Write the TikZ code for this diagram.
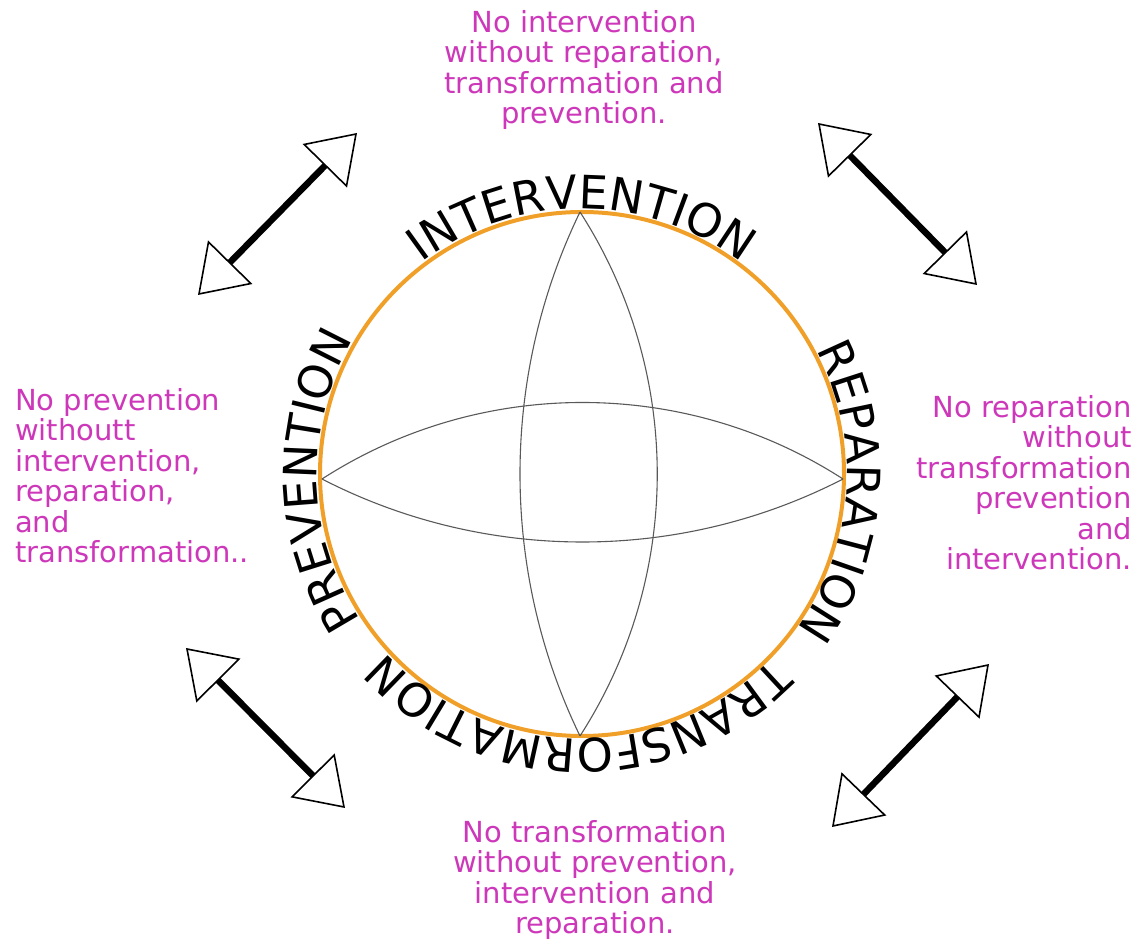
\documentclass[tikz,border=0pt]{standalone}
\usepackage{fontspec}
\setmainfont{DejaVu Sans}
\usetikzlibrary{arrows.meta,decorations.text}
\definecolor{ringorange}{RGB}{240,160,40}
\definecolor{notepink}{RGB}{205,55,185}
\begin{document}
\begin{tikzpicture}[x=1bp,y=1bp,
  ring/.style={draw=ringorange, line width=4bp},
  lens/.style={draw=black!65, line width=1.1bp},
  biarrow/.style={line width=6.5bp,
    {Triangle[length=46bp,width=62bp,fill=white,line width=1.6bp]}-{Triangle[length=46bp,width=62bp,fill=white,line width=1.6bp]}},
  note/.style={text=notepink, font=\fontsize{29bp}{30.5bp}\selectfont, inner sep=0pt},
  ringword/.style={decorate, decoration={text along path, text align=center,
    text={|\fontsize{46bp}{46bp}\selectfont|#1}}}
]
\useasboundingbox (0,0) rectangle (1141,949);

% central ring
\coordinate (c) at (582,475);
\draw[ring] (c) circle[radius=262];

% the two crossing lenses
\coordinate (ltop) at (580,737);
\coordinate (lbot) at (580,213);
\coordinate (lleft) at (322,470);
\coordinate (lright) at (843,470);
\draw[lens] (ltop) .. controls (683,577) and (683,373) .. (lbot);
\draw[lens] (ltop) .. controls (500,572) and (500,378) .. (lbot);
\draw[lens] (lleft) .. controls (480,572) and (685,572) .. (lright);
\draw[lens] (lleft) .. controls (485,386) and (680,386) .. (lright);

% words set around the ring, clockwise
\path[ringword=INTERVENTION] (c) ++(140:265) arc[start angle=140, end angle=40, radius=265];
\path[ringword=REPARATION] (c) ++(46:265) arc[start angle=46, end angle=-54, radius=265];
\path[ringword=TRANSFORMATION] (c) ++(-31:265) arc[start angle=-31, end angle=-151, radius=265];
\path[ringword=PREVENTION] (c) ++(231.5:265) arc[start angle=231.5, end angle=131.5, radius=265];

% double arrows
\coordinate (tl1) at (198,654); \coordinate (tl2) at (357,816);
\coordinate (tr1) at (818,826); \coordinate (tr2) at (977,664);
\coordinate (bl1) at (186,301); \coordinate (bl2) at (345,141);
\coordinate (br1) at (989,285); \coordinate (br2) at (832,122);
\draw[biarrow] (tl1) -- (tl2);
\draw[biarrow] (tr1) -- (tr2);
\draw[biarrow] (bl1) -- (bl2);
\draw[biarrow] (br1) -- (br2);

% notes
\node[note, anchor=north, align=center] (ntop) at (584,939)
  {No intervention\\without reparation,\\transformation and\\prevention.};
\node[note, anchor=north east, align=right] (nright) at (1132,554)
  {No reparation\\without\\transformation\\prevention\\and\\intervention.};
\node[note, anchor=north west, align=left] (nleft) at (15,561)
  {No prevention\\withoutt\\intervention,\\reparation,\\and\\transformation..};
\node[note, anchor=north, align=center] (nbot) at (595,129)
  {No transformation\\without prevention,\\intervention and\\reparation.};
\end{tikzpicture}
\end{document}
